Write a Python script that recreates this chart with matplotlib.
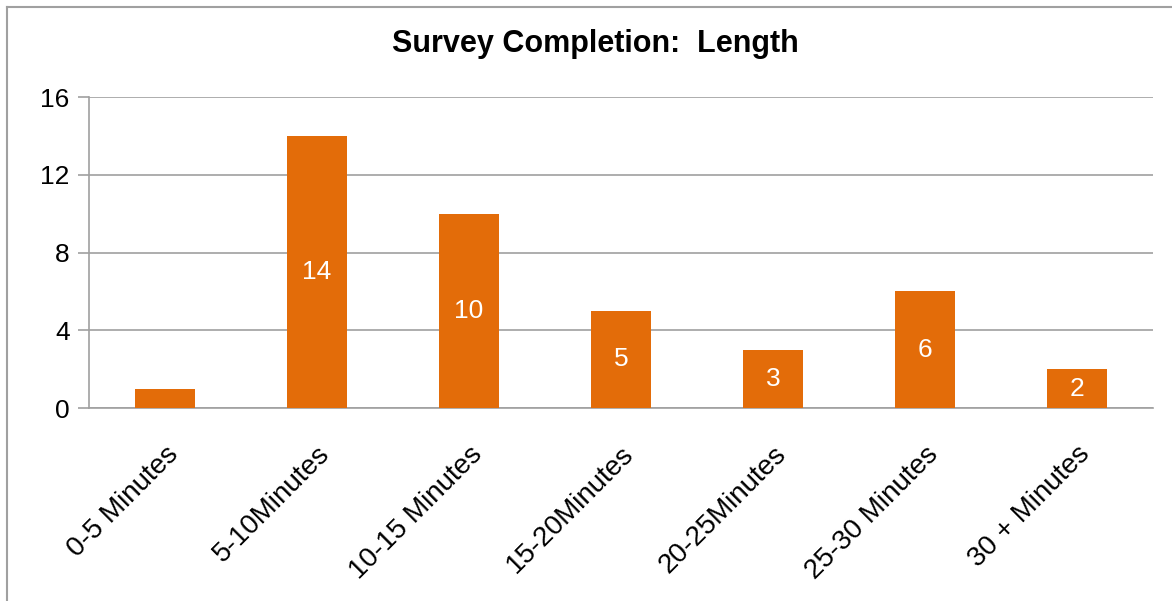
import matplotlib
matplotlib.use('Agg')
from matplotlib import pyplot as plt
from matplotlib.lines import Line2D

# survey completion times
categories = ["0-5 Minutes", "5-10Minutes", "10-15 Minutes", "15-20Minutes",
              "20-25Minutes", "25-30 Minutes", "30 + Minutes"]
counts = [1, 14, 10, 5, 3, 6, 2]
yticks = [0, 4, 8, 12, 16]

plt.rcParams['font.family'] = ['Liberation Sans', 'DejaVu Sans']

fig = plt.figure(figsize=(11.72, 6.01), dpi=100)
ax = fig.add_axes([0.0759, 0.3211, 0.9079, 0.5175])

x = range(len(categories))
bars = ax.bar(x, counts, width=0.4, color='#E36C09', zorder=3)

# value labels centred inside each bar (first bar too short to show one)
for rect, v in zip(bars, counts):
    if v < 2:
        continue
    ax.text(rect.get_x() + rect.get_width() / 2, v / 2, str(v),
            ha='center', va='center', color='white', fontsize=19, zorder=4)

ax.set_xlim(-0.5, len(categories) - 0.5)
ax.set_ylim(0, 16)
ax.set_yticks(yticks)
ax.set_yticklabels([str(t) for t in yticks], fontsize=19)
ax.set_xticks(list(x))
ax.set_xticklabels(categories, fontsize=20, rotation=45, ha='right',
                   va='top', rotation_mode='anchor')
ax.tick_params(axis='x', length=0, pad=24)
ax.tick_params(axis='y', length=8, width=1.2, color='#A0A0A0', pad=6)

ax.yaxis.grid(True, color='#A0A0A0', linewidth=1.2, zorder=0)
for side in ['top', 'right']:
    ax.spines[side].set_visible(False)
for side in ['left', 'bottom']:
    ax.spines[side].set_color('#A0A0A0')
    ax.spines[side].set_linewidth(1.2)

fig.text(595 / 1172, 1 - 44 / 601, "Survey Completion:  Length",
         ha='center', va='center', fontsize=22, fontweight='bold')

# chart frame (left and top edges)
fig.add_artist(Line2D([7 / 1172, 7 / 1172], [0, 1 - 7 / 601],
                      transform=fig.transFigure, color='#A0A0A0', lw=1.5))
fig.add_artist(Line2D([7 / 1172, 1], [1 - 7 / 601, 1 - 7 / 601],
                      transform=fig.transFigure, color='#A0A0A0', lw=1.5))

fig.savefig('out.png', dpi=100, facecolor='white')
